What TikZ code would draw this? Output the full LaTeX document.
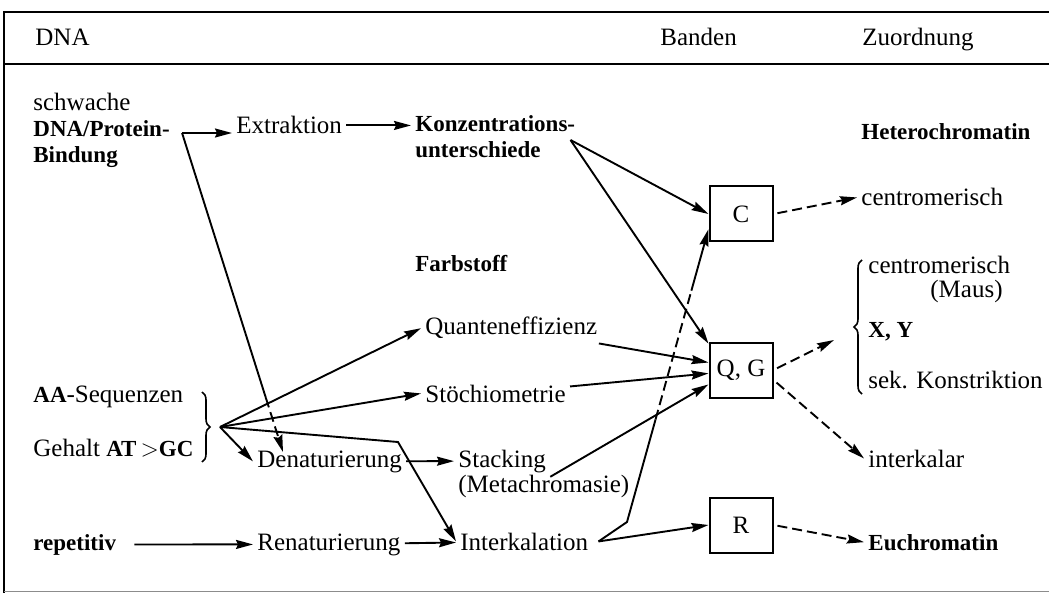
\documentclass[tikz,border=0pt]{standalone}
\usepackage{fontspec}
\setmainfont{Liberation Serif}
\usepackage{tikz}
\usetikzlibrary{positioning, arrows.meta, calc, decorations.pathreplacing}
\newcommand{\fett}[1]{{\fontsize{11.5}{13}\selectfont\bfseries #1}}
\tikzset{
  bandtext/.style={
    font=\fontsize{12.5}{13}\selectfont,
    inner sep=2pt,
    align=left,
    anchor=base west
  },
  bandbox/.style={
    rectangle,
    draw,
    line width=1pt,
    minimum width=31.5pt,
    minimum height=27.5pt,
    inner sep=0pt,
    font=\fontsize{12.5}{13}\selectfont
  },
  bandline/.style={
    line width=0.95pt
  },
  bandarrow/.style={
    -{Stealth[length=8.5pt, width=4.5pt, inset=1pt]},
    line width=0.95pt
  },
  banddash/.style={
    bandarrow,
    dash pattern=on 5pt off 2.5pt,
    shorten <=2pt
  },
  bandbrace/.style={
    decorate,
    decoration={brace, amplitude=4pt},
    line width=0.8pt
  }
}
\begin{document}
\begin{tikzpicture}[x=0.5pt, y=-0.5pt]
  \useasboundingbox (0,0) rectangle (1049,593);
  \draw[line width=1.2pt] (1049,12) -- (4,12) -- (4,593);
  \draw[line width=1.2pt] (4,64) -- (1049,64);
  \draw[line width=0.4pt, black!45] (4,591) -- (1049,591);

  \node[bandtext] (hdna) at (31,46) {DNA};
  \node[bandtext] (hband) at (656,46) {Banden};
  \node[bandtext] (hzuord) at (858,46) {Zuordnung};

  \node[bandtext, anchor=west] (dnap) at (29,130) {schwache\\\fett{DNA/Protein-}\\\fett{Bindung}};
  \node[bandtext] (aaseq) at (29,402) {\fett{AA}-Sequenzen};
  \node[bandtext] (gehalt) at (29,456) {Gehalt \fett{AT}\,$>$\fett{GC}};
  \node[bandtext] (repet) at (29,550) {\fett{repetitiv}};

  \node[bandtext] (extr) at (232,134) {Extraktion};
  \node[bandtext] (denat) at (253,467) {Denaturierung};
  \node[bandtext] (renat) at (253,550) {Renaturierung};

  \node[bandtext, anchor=west] (konz) at (411,137) {\fett{Konzentrations-}\\\fett{unterschiede}};
  \node[bandtext] (farb) at (411,271) {\fett{Farbstoff}};
  \node[bandtext] (quant) at (421,335) {Quanteneffizienz};
  \node[bandtext] (stoech) at (421,402) {Stöchiometrie};
  \node[bandtext] (stack) at (454,467) {Stacking};
  \node[bandtext] (meta) at (454,492) {(Metachromasie)};
  \node[bandtext] (inter) at (456,550) {Interkalation};

  \node[bandbox] (cbox) at (741,214) {C};
  \node[bandbox] (qgbox) at (741,370) {Q, G};
  \node[bandbox] (rbox) at (741,525) {R};

  \node[bandtext] (hetero) at (857,140) {\fett{Heterochromatin}};
  \node[bandtext] (centro) at (857,206) {centromerisch};
  \node[bandtext] (centmaus) at (864,273) {centromerisch};
  \node[bandtext] (maus) at (926,298) {(Maus)};
  \node[bandtext] (xy) at (864,337) {\fett{X, Y}};
  \node[bandtext] (konstr) at (864,388) {sek. Konstriktion};
  \node[bandtext] (interk) at (864,467) {interkalar};
  \node[bandtext] (euchr) at (864,550) {\fett{Euchromatin}};

  \draw[bandbrace] (202,392) -- (202,462);
  \draw[bandbrace] (862,394) -- (862,260);
  \coordinate (fan) at (220,427);
  \coordinate (fanknick) at (398,442);
  \coordinate (zuordtip) at (834,340);
  \coordinate (dnaout) at ($(dnap.east)+(8,3)$);
  \coordinate (denatin) at ($(denat.north west)+(30,6)$);
  \coordinate (konzout) at ($(konz.east)+(-9,3)$);
  \coordinate (interout) at ($(inter.east)+(6,0)$);
  \coordinate (interknick) at (627,522);

  \draw[bandarrow] (dnaout) -- (dnaout -| extr.west);
  \draw[bandarrow] (extr.east) -- (extr.east -| konz.west);
  \draw[bandline] (dnaout) -- ($(dnaout)!0.83!(denatin)$);
  \draw[bandarrow, dash pattern=on 5pt off 2.5pt] ($(dnaout)!0.83!(denatin)$) -- (denatin);

  \draw[bandarrow] (fan) -- (quant.west);
  \draw[bandarrow] (fan) -- (stoech.west);
  \draw[bandarrow] (fan) -- (fanknick) -- (inter.west);
  \draw[bandarrow] (fan) -- (denat.west);
  \draw[bandarrow] (denat) -- (stack);
  \draw[bandarrow, shorten <=7pt] (repet) -- (renat);
  \draw[bandarrow] (renat) -- (inter);

  \draw[bandarrow] (konzout) -- (cbox.west);
  \draw[bandarrow] (konzout) -- (qgbox.141);
  \draw[bandarrow] (quant) -- (qgbox.167);
  \draw[bandarrow] (stoech) -- (qgbox.186);
  \draw[bandarrow] (stack.south east) -- (qgbox.204);

  \draw[bandarrow] (interout) -- (rbox.west);
  \draw[bandline] (interout) -- (interknick) -- ($(interknick)!0.35!(cbox.205)$);
  \draw[bandline, dash pattern=on 5pt off 2.5pt] ($(interknick)!0.35!(cbox.205)$) -- ($(interknick)!0.79!(cbox.205)$);
  \draw[bandarrow] ($(interknick)!0.79!(cbox.205)$) -- (cbox.205);

  \draw[banddash] (cbox.east) -- (centro.west);
  \draw[banddash] (qgbox.east) -- (zuordtip);
  \draw[banddash] (qgbox.-17) -- (interk.west);
  \draw[banddash] (rbox.east) -- (euchr.west);
\end{tikzpicture}
\end{document}
